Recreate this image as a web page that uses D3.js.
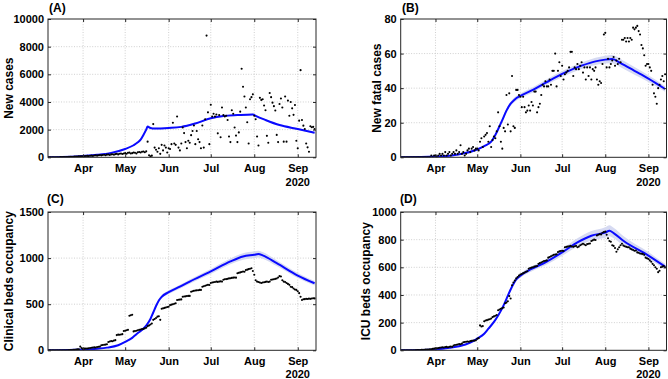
<!DOCTYPE html>
<html><head><meta charset="utf-8">
<script src="https://cdn.jsdelivr.net/npm/d3@7"></script>
<style>
body{margin:0;background:#fff}
svg{display:block}
text{font-family:"Liberation Sans",Arial,Helvetica,sans-serif;font-weight:bold;fill:#000}
</style>
</head><body>
<svg id="c" width="668" height="379"></svg>
<script>
// ---------------- data ----------------
const startDate = "2020-03-07";   // first daily observation (index 0)
const endDate = "2020-09-14";     // right edge of the time axis
const monthTicks = ["2020-04-01","2020-05-01","2020-06-01","2020-07-01","2020-08-01","2020-09-01"];
const monthLabels = ["Apr","May","Jun","Jul","Aug","Sep"];
const yearLabel = "2020";
const panelTitles = ["(A)","(B)","(C)","(D)"];
const yLabels = ["New cases","New fatal cases","Clinical beds occupancy","ICU beds occupancy"];
const yTicksA = [0,2000,4000,6000,8000,10000];
const yTicksB = [0,20,40,60,80];
const yTicksC = [0,500,1000,1500];
const yTicksD = [0,200,400,600,800,1000];

// daily observations (from startDate)
const newCases = [0,0,0,0,0,0,0,5,5,10,10,15,20,20,25,30,35,40,40,50,55,60,65,70,75,
80,70,90,100,85,110,120,100,130,140,120,150,160,140,170,180,150,190,200,170,210,220,190,230,250,210,260,270,240,280,
300,260,320,340,280,300,350,330,280,360,380,
350,400,420,370,430,1130,150,80,120,2400,
700,550,400,650,250,900,500,850,700,350,
650,600,950,2500,1000,900,2950,700,500,1000,
2150,1750,1100,650,1200,1050,1600,1900,2300,950,
1900,1300,1100,650,2300,700,2750,8800,3250,950,
3800,2950,3150,2950,3100,1730,3050,1450,3600,3050,
2950,3000,2700,1500,1100,3400,3150,2150,1570,1100,
1800,3300,6400,5100,4400,3600,2530,1000,4200,4350,
4550,3000,2750,1500,850,4300,4150,4200,3750,3400,
1550,1050,4650,4350,3950,3700,3380,1620,1100,3850,
4250,3600,1130,4400,1130,4100,3000,4000,3540,3070,
3780,1200,650,2650,6300,2700,2290,2050,1000,720,
400,2240,2170,2200,2050];

const newFatal = [0,0,0,0,0,0,0,0,0,0,0,0,0,0,0,0,0,0,0,0,0,0,1,0,1,
1,0,1,2,1,2,1,3,1,2,3,1,2,3,2,4,2,3,7,2,3,1,2,4,5,3,5,6,4,5,
5,4,9,11,6,12,13,14,9,18,6,10,12,11,15,26,18,9,5,17,15,36,19,37,15,47,18,17,39,39,36,
35,29,35,29,26,27,30,27,32,30,
38,38,26,29,31,36,42,41,44,41,
41,45,42,50,50,60,41,50,55,47,
53,45,48,49,50,52,61,61,47,52,
51,54,51,53,55,49,52,45,52,47,
52,45,51,50,52,45,42,44,43,54,
71,72,52,57,52,54,56,58,53,56,
54,57,55,68,68,69,67,69,67,69,
68,75,74,75,76,73,71,65,63,59,
53,54,54,52,50,42,37,35,31,40,
42,45,47,44,48];

const clinicalBeds = [0,0,0,0,0,0,0,0,0,0,0,0,0,0,0,2,3,3,5,5,8,10,12,40,25,
15,18,20,20,22,25,28,30,32,30,35,38,40,55,58,60,62,65,90,95,100,98,105,110,165,170,168,172,175,210,
212,218,222,375,380,385,205,208,212,218,222,
225,230,232,238,245,262,270,280,291,330,
340,350,365,370,330,450,455,460,465,470,
472,490,495,500,505,510,545,548,550,552,
580,583,585,588,590,590,635,640,645,648,
650,652,655,655,690,695,700,705,710,708,
730,735,738,740,745,742,745,748,745,765,
770,772,775,780,782,785,788,790,788,835,
840,845,850,855,852,870,875,880,885,890,
860,820,760,745,740,735,730,735,738,742,
745,740,745,765,768,770,775,778,790,805,
800,760,745,740,730,720,710,690,685,670,
660,655,640,620,580,545,553,555,558,556,
560,558,562,565,563];

const icuBeds = [0,0,0,0,0,0,0,0,0,0,0,1,1,2,2,3,3,4,5,5,6,7,8,10,12,
14,15,17,18,20,22,20,24,25,22,26,28,25,35,38,40,42,45,44,48,58,60,62,64,62,66,68,70,70,72,
84,88,180,172,175,210,215,218,222,225,230,
240,245,250,255,290,295,300,305,310,340,
345,355,392,375,470,490,505,520,530,540,
548,552,558,562,568,572,590,595,598,600,
605,608,610,625,630,635,640,645,648,650,
670,675,680,685,690,692,695,710,715,718,
720,718,745,748,750,752,755,750,748,752,
755,745,750,760,765,770,765,760,768,770,
772,790,795,800,798,830,835,840,838,850,
855,858,835,810,790,785,760,755,740,713,
730,745,760,770,757,752,748,745,745,735,
730,725,720,722,708,705,700,698,697,690,
670,665,660,650,640,625,615,600,590,565,
575,600,605,610,600];

// model fits (day offset from startDate, fitted value, half-width of band)
const modelCasesDays = [0,10,25,35,45,55,61,64,66,68,70,71,73,76,86,95,105,116,125,135,146,148,155,165,178,190];
const modelCasesVals = [0,20,100,180,320,600,870,1080,1280,1620,2000,2220,2120,2080,2120,2200,2450,2820,2980,3050,3100,3000,2700,2330,2050,1770];
const modelCasesBand = [0,5,10,15,20,30,40,45,50,55,60,60,60,60,60,60,60,60,60,60,60,60,60,60,60,60];

const modelFatalDays = [0,25,40,55,60,65,69,71,73,76,79,82,86,95,105,116,130,140,147,152,158,168,178,190];
const modelFatalVals = [0,0.4,1.5,4.5,6.5,9,14.5,18,21.5,27,31,33.5,35.5,39,43.5,48.2,53,55.5,56.5,56.8,54.5,50,45.5,39.5];
const modelFatalBand = [0,0.1,0.2,0.4,0.5,0.7,0.9,1,1.1,1.2,1.3,1.4,1.4,1.5,1.6,1.7,1.9,2.1,2.3,2.4,2.4,2.2,1.9,1.6];

const modelClinicalDays = [0,15,25,35,42,50,55,60,63,66,69,71,73,75,77,79,81,86,94,101,116,130,139,147,150,153,163,178,190];
const modelClinicalVals = [0,2,8,18,29,55,91,135,175,210,250,290,340,410,480,540,580,630,690,745,855,964,1018,1036,1044,1029,945,811,727];
const modelClinicalBand = [0,0,1,2,3,5,6,8,9,10,11,12,13,14,15,16,17,20,22,24,28,32,35,37,37,36,32,28,25];

const modelIcuDays = [0,15,25,35,42,50,55,60,63,67,70,73,75,77,79,81,83,86,94,104,116,127,137,147,150,153,160,178,190];
const modelIcuVals = [0,2,7,18,29,55,84,120,156,205,252,305,348,395,440,480,512,540,588,636,708,780,828,852,864,848,792,685,605];
const modelIcuBand = [0,0,1,2,3,4,5,6,7,8,9,10,11,12,13,13,14,15,18,21,25,30,34,38,40,38,34,25,20];

// ---------------- drawing ----------------
const parse = d3.timeParse("%Y-%m-%d");
const t0 = parse(startDate), t1 = parse(endDate);
const dayDate = d => d3.timeDay.offset(t0, d);
const svg = d3.select("#c");
const FONT = "'Liberation Sans', Arial, Helvetica, sans-serif";

const panels = [
  {title:panelTitles[0], label:yLabels[0], obs:newCases, ticks:yTicksA, md:modelCasesDays, mv:modelCasesVals, mb:modelCasesBand,
   box:[48,19,316,157.3], labelX:9, titleX:49, titleY:11.5, yearDy:29},
  {title:panelTitles[1], label:yLabels[1], obs:newFatal, ticks:yTicksB, md:modelFatalDays, mv:modelFatalVals, mb:modelFatalBand,
   box:[400.7,19,666.5,157.3], labelX:376.3, titleX:402, titleY:11.5, yearDy:29},
  {title:panelTitles[2], label:yLabels[2], obs:clinicalBeds, ticks:yTicksC, md:modelClinicalDays, mv:modelClinicalVals, mb:modelClinicalBand,
   box:[48,212,316,350.3], labelX:9, titleX:47, titleY:202.5, yearDy:27.2},
  {title:panelTitles[3], label:yLabels[3], obs:icuBeds, ticks:yTicksD, md:modelIcuDays, mv:modelIcuVals, mb:modelIcuBand,
   box:[400.7,212,666.5,350.3], labelX:365.5, titleX:400, titleY:202.5, yearDy:27.2}
];

panels.forEach((p, pi) => {
  const [L,T,R,B] = p.box;
  const x = d3.scaleTime().domain([t0,t1]).range([L,R]);
  const y = d3.scaleLinear().domain([0, p.ticks[p.ticks.length-1]]).range([B,T]);
  const g = svg.append("g");
  const clipId = "clip" + pi;
  svg.append("clipPath").attr("id", clipId).append("rect")
    .attr("x", L).attr("y", T).attr("width", R-L).attr("height", B-T);

  // grid
  const mt = monthTicks.map(parse);
  g.append("g").selectAll("line").data(mt).join("line")
    .attr("x1", d => x(d)).attr("x2", d => x(d)).attr("y1", T).attr("y2", B)
    .attr("stroke", "#c4c4c4").attr("stroke-width", 0.8).attr("stroke-dasharray", "1,1.6");
  g.append("g").selectAll("line").data(p.ticks.slice(1,-1)).join("line")
    .attr("x1", L).attr("x2", R).attr("y1", d => y(d)).attr("y2", d => y(d))
    .attr("stroke", "#c4c4c4").attr("stroke-width", 0.8).attr("stroke-dasharray", "1,1.6");

  const model = p.md.map((d,i) => ({t: dayDate(d), v: p.mv[i], b: p.mb[i]}));
  const pg = g.append("g").attr("clip-path", `url(#${clipId})`);
  // band
  pg.append("path").datum(model)
    .attr("d", d3.area().curve(d3.curveMonotoneX)
      .x(d => x(d.t)).y0(d => y(d.v - d.b)).y1(d => y(d.v + d.b)))
    .attr("fill", "rgb(214,218,242)");
  // model line
  pg.append("path").datum(model)
    .attr("d", d3.line().curve(d3.curveMonotoneX).x(d => x(d.t)).y(d => y(d.v)))
    .attr("fill", "none").attr("stroke", "#0a0aff").attr("stroke-width", 2);
  // observations
  pg.append("g").selectAll("circle").data(p.obs).join("circle")
    .attr("cx", (d,i) => x(dayDate(i))).attr("cy", d => y(d)).attr("r", 1.05)
    .attr("fill", "#000");

  // axes (ticks inward)
  const ax = g.append("g").attr("transform", `translate(0,${B})`)
    .call(d3.axisBottom(x).tickValues(mt).tickFormat((d,i) => monthLabels[i]).tickSizeInner(-3).tickSizeOuter(0).tickPadding(7));
  const ay = g.append("g").attr("transform", `translate(${L},0)`)
    .call(d3.axisLeft(y).tickValues(p.ticks).tickFormat(d3.format("d")).tickSizeInner(-3).tickSizeOuter(0).tickPadding(4));
  const axT = g.append("g").attr("transform", `translate(0,${T})`)
    .call(d3.axisTop(x).tickValues(mt).tickFormat("").tickSizeInner(-3).tickSizeOuter(0));
  const ayR = g.append("g").attr("transform", `translate(${R},0)`)
    .call(d3.axisRight(y).tickValues(p.ticks).tickFormat("").tickSizeInner(-3).tickSizeOuter(0));
  [ax, ay, axT, ayR].forEach(a => {
    a.attr("font-family", FONT).attr("font-size", 11).attr("font-weight", "bold").attr("color", "#262626");
    a.select(".domain").remove();
    a.selectAll("text").attr("fill", "#000");
  });
  // box
  g.append("rect").attr("x", L).attr("y", T).attr("width", R-L).attr("height", B-T)
    .attr("fill", "none").attr("stroke", "#262626").attr("stroke-width", 1);

  // year label under last month tick
  g.append("text").attr("x", x(mt[mt.length-1])).attr("y", B + p.yearDy)
    .attr("text-anchor", "middle").attr("font-size", 11).text(yearLabel);

  // y label
  g.append("text").attr("transform", `translate(${p.labelX},${(T+B)/2}) rotate(-90)`)
    .attr("text-anchor", "middle").attr("dy", "0.36em").attr("font-size", 12).text(p.label);

  // title
  g.append("text").attr("x", p.titleX).attr("y", p.titleY).attr("font-size", 12).text(p.title);
});
</script>
</body></html>
